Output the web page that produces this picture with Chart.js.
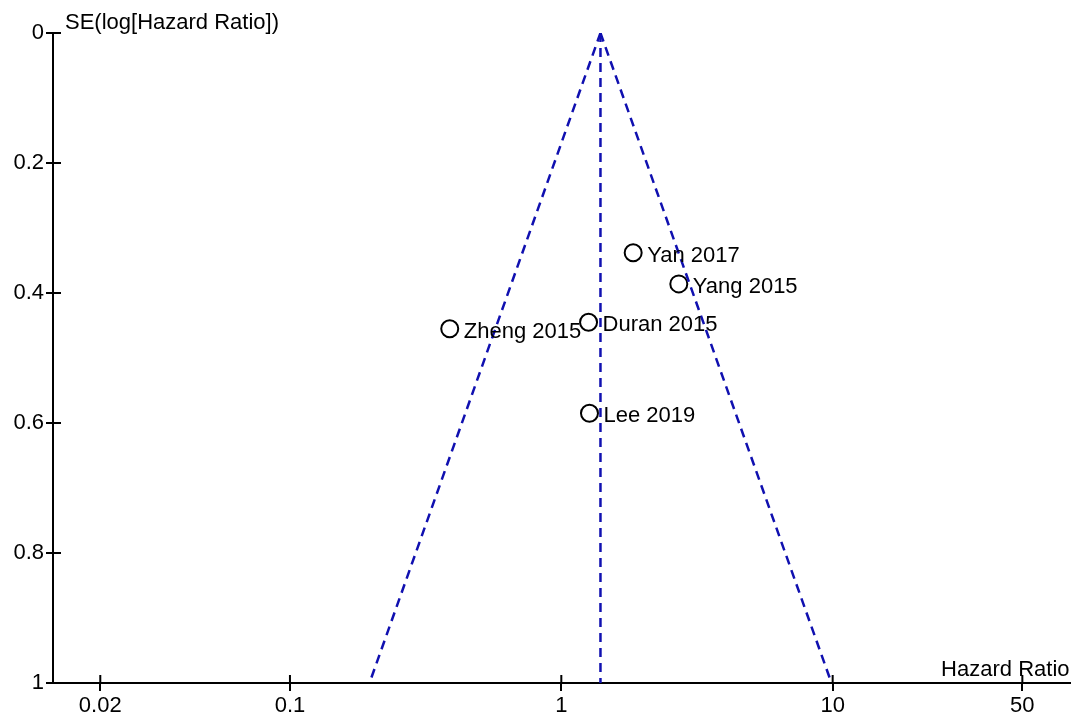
<!DOCTYPE html>
<html>
<head>
<meta charset="utf-8">
<script src="https://cdn.jsdelivr.net/npm/chart.js@4"></script>
<style>
  html, body { margin: 0; padding: 0; background: #fff; }
  #wrap { width: 1080px; height: 726px; }
</style>
</head>
<body>
<div id="wrap"><canvas id="funnelChart"></canvas></div>
<script>
// Studies (hazard ratio and standard error of log HR)
var studyNames = ['Yan 2017', 'Yang 2015', 'Duran 2015', 'Zheng 2015', 'Lee 2019'];
var studyHR = [1.84, 2.71, 1.26, 0.388, 1.27];
var studySE = [0.338, 0.386, 0.445, 0.455, 0.585];

// Pooled estimate and the 95% funnel limits at SE = 1
var pooledHR = 1.394;
var funnelSE = [0, 1];
var funnelLower = [1.394, 0.1964];
var funnelUpper = [1.394, 9.90];

// Axis ticks
var xTicks = [0.02, 0.1, 1, 10, 50];
var yTicks = [0, 0.2, 0.4, 0.6, 0.8, 1];

var blue = '#1010b0';
var font = { family: '"Liberation Sans", Arial, sans-serif', size: 22 };

var studyPoints = studyHR.map(function (hr, i) {
    return { x: hr, y: studySE[i] };
});

function funnelLine(xs) {
    return xs.map(function (x, i) { return { x: x, y: funnelSE[i] }; });
}

var lineStyle = {
    showLine: true,
    borderColor: blue,
    borderWidth: 2.5,
    borderDash: [9, 6],
    pointRadius: 0,
    fill: false
};

// Labels next to points, axis titles and the inner half of the tick marks
var extrasPlugin = {
    id: 'extras',
    afterDraw: function (chart) {
        var ctx = chart.ctx;
        var area = chart.chartArea;
        var xs = chart.scales.x, ys = chart.scales.y;
        ctx.save();
        ctx.fillStyle = '#000';
        ctx.font = font.size + 'px ' + font.family;

        // study labels
        ctx.textAlign = 'left';
        ctx.textBaseline = 'middle';
        var meta = chart.getDatasetMeta(3);
        meta.data.forEach(function (pt, i) {
            ctx.fillText(studyNames[i], pt.x + 14, pt.y + 3);
        });

        // axis titles
        ctx.textBaseline = 'alphabetic';
        ctx.fillText('SE(log[Hazard Ratio])', area.left + 12, 29);
        ctx.textAlign = 'right';
        ctx.fillText('Hazard Ratio', area.right, area.bottom - 7);

        // inner tick marks
        ctx.strokeStyle = '#000';
        ctx.lineWidth = 2;
        ctx.beginPath();
        xTicks.forEach(function (v) {
            var px = xs.getPixelForValue(v);
            ctx.moveTo(px, area.bottom);
            ctx.lineTo(px, area.bottom - 8);
        });
        yTicks.forEach(function (v) {
            var py = ys.getPixelForValue(v);
            ctx.moveTo(area.left, py);
            ctx.lineTo(area.left + 8, py);
        });
        ctx.stroke();
        ctx.restore();
    }
};

var ctx = document.getElementById('funnelChart').getContext('2d');
var chart = new Chart(ctx, {
    type: 'scatter',
    data: {
        datasets: [
            Object.assign({ data: funnelLine(funnelLower) }, lineStyle),
            Object.assign({ data: funnelLine(funnelUpper) }, lineStyle),
            Object.assign({ data: funnelSE.map(function (s) { return { x: pooledHR, y: s }; }) }, lineStyle),
            {
                data: studyPoints,
                pointStyle: 'circle',
                pointRadius: 8.5,
                pointHoverRadius: 8.5,
                pointBorderWidth: 2,
                pointBackgroundColor: 'rgba(255,255,255,0)',
                pointBorderColor: '#000',
                showLine: false
            }
        ]
    },
    options: {
        responsive: true,
        maintainAspectRatio: false,
        animation: false,
        layout: { padding: { top: 33, right: 7, left: 0, bottom: 0 } },
        plugins: {
            legend: { display: false },
            tooltip: { enabled: false }
        },
        scales: {
            x: {
                type: 'logarithmic',
                min: 0.01339,
                max: 74.6,
                afterBuildTicks: function (scale) {
                    scale.ticks = xTicks.map(function (v) { return { value: v }; });
                },
                afterFit: function (scale) { scale.height = 43; },
                ticks: {
                    color: '#000',
                    font: font,
                    padding: 2,
                    maxRotation: 0,
                    autoSkip: false,
                    callback: function (v) { return String(v); }
                },
                grid: {
                    drawOnChartArea: false,
                    color: '#000',
                    lineWidth: 2,
                    tickLength: 8
                },
                border: { color: '#000', width: 2 }
            },
            y: {
                reverse: true,
                min: 0,
                max: 1,
                afterBuildTicks: function (scale) {
                    scale.ticks = yTicks.map(function (v) { return { value: v }; });
                },
                afterFit: function (scale) { scale.width = 53; },
                ticks: {
                    color: '#000',
                    font: font,
                    padding: 2,
                    callback: function (v) { return String(v); }
                },
                grid: {
                    drawOnChartArea: false,
                    color: '#000',
                    lineWidth: 2,
                    tickLength: 7
                },
                border: { color: '#000', width: 2 }
            }
        }
    },
    plugins: [extrasPlugin]
});
</script>
</body>
</html>
